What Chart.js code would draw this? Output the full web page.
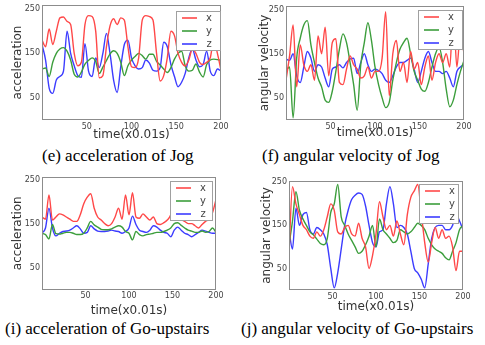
<!DOCTYPE html>
<html>
<head>
<meta charset="utf-8">
<script src="https://cdn.jsdelivr.net/npm/chart.js@4.4.1/dist/chart.umd.min.js"></script>
<style>
html,body{margin:0;padding:0;background:#fff;}
body{width:485px;height:345px;position:relative;overflow:hidden;}
canvas{position:absolute;}
.cap{position:absolute;font-family:"Liberation Serif","Times New Roman",serif;font-size:17px;line-height:17px;color:#000;white-space:nowrap;}
</style>
</head>
<body>
<canvas id="c1" width="240" height="142" style="left:0px;top:0px"></canvas>
<canvas id="c2" width="245" height="142" style="left:240px;top:0px"></canvas>
<canvas id="c3" width="240" height="148" style="left:0px;top:170px"></canvas>
<canvas id="c4" width="245" height="144" style="left:240px;top:170px"></canvas>
<div class="cap" id="cap1" style="left:42px;top:147px"></div>
<div class="cap" id="cap2" style="left:262px;top:147px"></div>
<div class="cap" id="cap3" style="left:5px;top:320px"></div>
<div class="cap" id="cap4" style="left:241px;top:320px"></div>
<script>
// ---- data ----
const timeSteps = [0,4,8,12,16,20,24,28,32,36,40,44,48,52,56,60,64,68,72,76,80,84,88,92,96,100,104,108,112,116,120,124,128,132,136,140,144,148,152,156,160,164,168,172,176,180,184,188,192,196,200];
const seriesLabels = ['x', 'y', 'z'];
const xTickValues = [50, 100, 150, 200];
const yTickValues = [50, 150, 250];
const xAxisTitle = 'time(x0.01s)';
const captions = ['(e) acceleration of Jog', '(f) angular velocity of Jog', '(i) acceleration of Go-upstairs', '(j) angular velocity of Go-upstairs'];

// (e) acceleration of Jog
const jogAccX = [180,165,205,170,200,230,232,222,215,150,122,130,215,235,233,200,95,100,165,212,228,215,230,225,165,120,118,140,225,235,233,225,150,88,100,140,200,190,150,130,122,135,160,150,130,125,130,140,180,150,112];
const jogAccY = [115,117,98,130,150,160,163,155,135,103,97,108,126,134,140,132,105,119,134,149,156,150,130,100,122,135,143,150,145,137,148,148,132,124,115,107,118,137,150,155,122,110,112,126,108,97,125,135,137,136,134];
const jogAccZ = [170,135,72,60,90,98,110,200,150,122,100,96,172,110,98,140,118,150,195,150,90,62,120,170,180,140,122,115,118,135,128,112,110,118,175,165,125,98,75,85,105,140,160,135,120,125,155,110,100,115,110];
// (f) angular velocity of Jog
const jogGyrX = [90,145,215,75,170,125,110,125,90,190,150,210,100,175,184,85,80,115,145,125,115,95,100,120,95,110,110,140,245,55,150,180,110,130,85,155,115,130,80,120,145,90,130,150,130,150,120,245,120,200,150];
const jogGyrY = [112,120,5,140,185,215,225,170,130,95,75,45,40,65,110,160,195,175,130,80,22,125,175,220,180,120,80,50,28,40,90,130,160,175,185,150,110,90,70,65,85,120,150,165,130,70,30,45,80,110,135];
const jogGyrZ = [138,135,150,100,85,120,155,140,110,125,120,95,75,115,120,125,118,130,138,140,105,130,150,125,110,115,112,105,90,85,100,120,130,130,135,140,115,85,110,140,155,130,110,110,105,110,95,75,110,120,125];
// (i) acceleration of Go-upstairs
const upAccX = [165,160,215,158,165,172,170,165,160,155,155,170,195,210,218,185,165,158,150,145,150,165,185,160,215,170,220,165,162,172,165,158,165,150,148,152,158,170,200,175,160,155,150,150,145,140,148,155,160,175,205];
const upAccY = [128,125,115,148,127,126,128,130,130,128,125,125,128,140,155,147,142,137,136,136,138,142,145,142,132,128,113,132,125,122,125,126,128,130,130,132,135,140,150,152,146,140,135,133,130,130,133,130,132,140,130];
const upAccZ = [128,140,185,140,122,128,132,133,135,140,145,138,128,130,145,138,133,132,132,133,135,133,132,128,132,140,167,148,135,132,130,135,145,142,135,130,128,120,135,142,135,128,125,120,125,130,135,133,130,128,128];
// (j) angular velocity of Go-upstairs
const upGyrX = [85,240,200,175,150,140,125,120,135,125,140,170,200,185,135,130,145,150,130,125,155,120,100,50,80,130,205,170,140,150,125,160,130,105,175,215,230,245,180,110,65,110,145,120,140,120,125,100,45,90,90];
const upGyrY = [105,160,228,185,165,150,135,128,118,108,105,120,180,200,245,170,150,130,115,100,85,90,105,125,150,100,165,140,130,120,110,115,140,135,130,135,145,155,150,140,120,105,95,90,85,75,70,90,110,140,150];
const upGyrZ = [138,95,190,150,175,180,140,130,145,140,130,105,50,5,40,95,150,185,210,220,225,222,195,150,110,100,135,140,200,240,200,145,150,145,130,90,50,40,25,5,60,120,145,150,150,140,140,150,175,160,140];

// ---- styles ----
const seriesColors = ['#ff4848', '#3c9e3c', '#3c3cff'];
const FONT = '"DejaVu Sans", Verdana, sans-serif';

const framePlugin = {
  id: 'frameAndLegend',
  afterDatasetsDraw(chart, args, opts) {
    const ctx = chart.ctx, a = chart.chartArea;
    ctx.save();
    // axes frame
    ctx.strokeStyle = '#8c8c8c';
    ctx.lineWidth = 1;
    ctx.strokeRect(Math.round(a.left) + 0.5, Math.round(a.top) + 0.5, Math.round(a.right - a.left) - 1, Math.round(a.bottom - a.top) - 1);
    // legend box
    const w = opts.w, h = opts.h;
    const lx = Math.round(a.right - opts.right - w), ly = Math.round(a.top + opts.top);
    ctx.fillStyle = '#fff';
    ctx.fillRect(lx, ly, w, h);
    ctx.strokeStyle = '#a0a0a0';
    ctx.strokeRect(lx + 0.5, ly + 0.5, w - 1, h - 1);
    ctx.font = '10px ' + FONT;
    ctx.textAlign = 'center';
    ctx.textBaseline = 'middle';
    chart.data.datasets.forEach((ds, i) => {
      const yy = ly + 7 + i * 13;
      ctx.strokeStyle = ds.borderColor;
      ctx.lineWidth = 1.6;
      ctx.beginPath();
      ctx.moveTo(lx + 6, yy);
      ctx.lineTo(lx + 21, yy);
      ctx.stroke();
      ctx.fillStyle = '#444';
      ctx.fillText(ds.label, lx + 33, yy);
    });
    ctx.restore();
  }
};

function toPoints(ts, vs) { return ts.map((t, i) => ({x: t, y: vs[i]})); }

function makeChart(id, series, p) {
  new Chart(document.getElementById(id), {
    type: 'line',
    data: {
      datasets: series.map((vals, i) => ({
        label: seriesLabels[i],
        data: toPoints(timeSteps, vals),
        borderColor: seriesColors[i],
        backgroundColor: seriesColors[i],
        borderWidth: 1.4,
        pointRadius: 0,
        fill: false,
        cubicInterpolationMode: 'monotone'
      }))
    },
    options: {
      responsive: false,
      animation: false,
      layout: { autoPadding: false, padding: { left: 0, top: p.padTop, right: p.padRight, bottom: 0 } },
      plugins: {
        legend: { display: false },
        tooltip: { enabled: false },
        frameAndLegend: p.legend
      },
      scales: {
        x: {
          type: 'linear', min: 0, max: 200,
          grid: { display: false, drawTicks: false },
          border: { display: false },
          afterBuildTicks: s => { s.ticks = xTickValues.map(v => ({ value: v })); },
          afterFit: s => { s.height = p.xAxisH; s.paddingLeft = 0; s.paddingRight = 0; },
          ticks: { font: { family: FONT, size: 8 }, color: '#444', padding: 2, maxRotation: 0, autoSkip: false },
          title: { display: true, text: xAxisTitle, font: { family: FONT, size: 12 }, color: '#333', padding: { top: 0, bottom: p.xTitleBottom } }
        },
        y: {
          type: 'linear', min: 0, max: p.yMax,
          grid: { display: false, drawTicks: false },
          border: { display: false },
          afterBuildTicks: s => { s.ticks = yTickValues.map(v => ({ value: v })); },
          afterFit: s => { s.width = p.yAxisW; s.paddingTop = 0; s.paddingBottom = 0; },
          ticks: { font: { family: FONT, size: 8 }, color: '#444', padding: 2 },
          title: { display: true, text: p.yTitle, font: { family: FONT, size: 12 }, color: '#333', padding: { top: p.yTitlePad, bottom: 0 } }
        }
      }
    },
    plugins: [framePlugin]
  });
}

makeChart('c1', [jogAccX, jogAccY, jogAccZ], {
  padTop: 5, padRight: 19, yAxisW: 42, xAxisH: 22, yTitlePad: 11, xTitleBottom: 0, yMax: 259,
  yTitle: 'acceleration', legend: { right: 0.5, top: 5.5, w: 45, h: 40 }
});
makeChart('c2', [jogGyrX, jogGyrY, jogGyrZ], {
  padTop: 6, padRight: 21, yAxisW: 46, xAxisH: 22, yTitlePad: 18, xTitleBottom: 1.5, yMax: 258,
  yTitle: 'angular velocity', legend: { right: 1.3, top: 4, w: 45, h: 40 }
});
makeChart('c3', [upAccX, upAccY, upAccZ], {
  padTop: 7, padRight: 24, yAxisW: 42, xAxisH: 28.5, yTitlePad: 11, xTitleBottom: 0, yMax: 256,
  yTitle: 'acceleration', legend: { right: 2.7, top: 4.4, w: 43, h: 40 }
});
makeChart('c4', [upGyrX, upGyrY, upGyrZ], {
  padTop: 11, padRight: 22, yAxisW: 49, xAxisH: 24, yTitlePad: 20, xTitleBottom: 0, yMax: 253,
  yTitle: 'angular velocity', legend: { right: 4.4, top: 2.6, w: 40, h: 40 }
});

['cap1', 'cap2', 'cap3', 'cap4'].forEach((id, i) => { document.getElementById(id).textContent = captions[i]; });
</script>
</body>
</html>
